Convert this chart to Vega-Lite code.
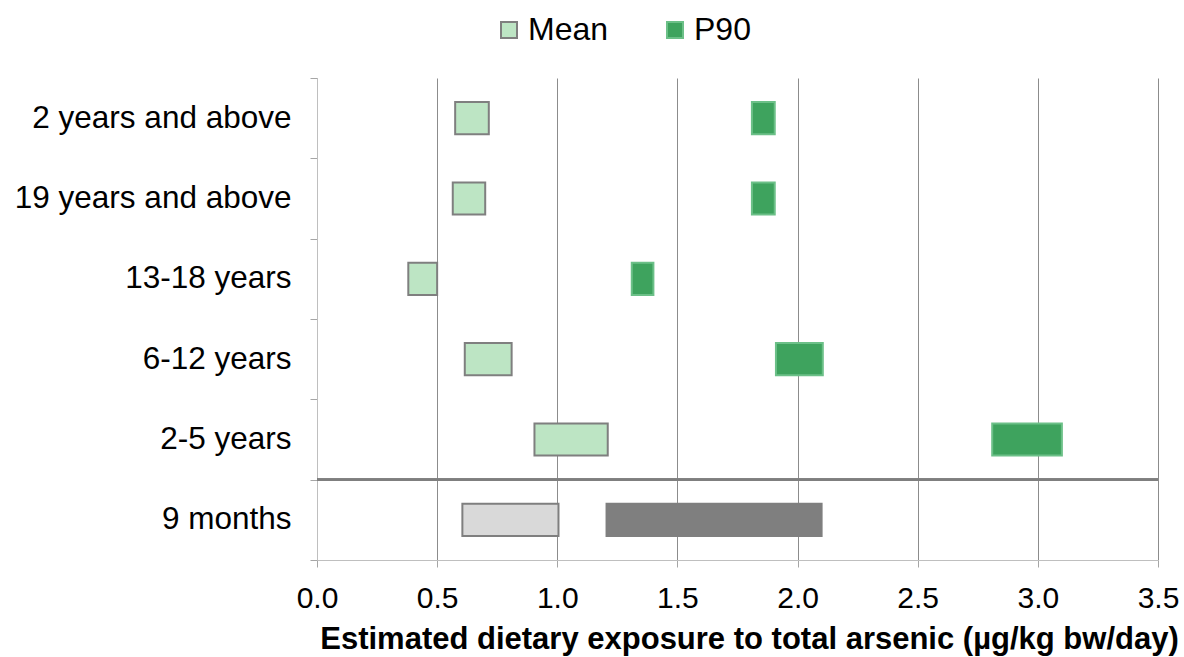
{
  "$schema": "https://vega.github.io/schema/vega-lite/v6.json",
  "width": 841,
  "height": 482,
  "autosize": {"type": "none"},
  "padding": {"left": 317, "top": 78, "right": 26, "bottom": 97},
  "background": "white",
  "config": {
    "font": "Liberation Sans",
    "view": {"stroke": null}
  },
  "data": {
    "values": [
      {"age": "2 years and above", "stat": "Mean", "lo": 0.575, "hi": 0.715},
      {"age": "2 years and above", "stat": "P90", "lo": 1.81, "hi": 1.905},
      {"age": "19 years and above", "stat": "Mean", "lo": 0.565, "hi": 0.70},
      {"age": "19 years and above", "stat": "P90", "lo": 1.81, "hi": 1.905},
      {"age": "13-18 years", "stat": "Mean", "lo": 0.38, "hi": 0.50},
      {"age": "13-18 years", "stat": "P90", "lo": 1.31, "hi": 1.40},
      {"age": "6-12 years", "stat": "Mean", "lo": 0.615, "hi": 0.81},
      {"age": "6-12 years", "stat": "P90", "lo": 1.91, "hi": 2.105},
      {"age": "2-5 years", "stat": "Mean", "lo": 0.905, "hi": 1.21},
      {"age": "2-5 years", "stat": "P90", "lo": 2.81, "hi": 3.10},
      {"age": "9 months", "stat": "Mean", "lo": 0.605, "hi": 1.005},
      {"age": "9 months", "stat": "P90", "lo": 1.205, "hi": 2.10}
    ]
  },
  "encoding": {
    "y": {
      "field": "age",
      "type": "nominal",
      "sort": ["2 years and above", "19 years and above", "13-18 years", "6-12 years", "2-5 years", "9 months"],
      "scale": {"paddingInner": 0, "paddingOuter": 0},
      "axis": {
        "title": null,
        "tickBand": "extent",
        "grid": false,
        "domainColor": "#bfbfbf",
        "tickColor": "#a6a6a6",
        "tickSize": 7,
        "labelFontSize": 31.5,
        "labelColor": "#000000",
        "labelPadding": 19,
        "labelLimit": 400
      }
    }
  },
  "layer": [
    {
      "mark": {"type": "bar", "height": {"band": 0.4}, "strokeWidth": 2},
      "encoding": {
        "x": {
          "field": "lo",
          "type": "quantitative",
          "scale": {"domain": [0, 3.5], "nice": false, "zero": false},
          "axis": {
            "values": [0, 0.5, 1, 1.5, 2, 2.5, 3, 3.5],
            "format": ".1f",
            "labelFlush": false,
            "title": "Estimated dietary exposure to total arsenic (µg/kg bw/day)",
            "titleFontSize": 31,
            "titleFontWeight": "bold",
            "titleColor": "#000000",
            "titlePadding": 11,
            "titleX": 432,
            "grid": true,
            "gridColor": "#8c8c8c",
            "gridWidth": 1,
            "domainColor": "#bfbfbf",
            "tickColor": "#a6a6a6",
            "tickSize": 7,
            "labelFontSize": 30,
            "labelColor": "#000000",
            "labelPadding": 16
          }
        },
        "x2": {"field": "hi"},
        "fill": {
          "condition": [
            {"test": "datum.age === '9 months' && datum.stat === 'Mean'", "value": "#d9d9d9"},
            {"test": "datum.age === '9 months'", "value": "#7f7f7f"}
          ],
          "field": "stat",
          "type": "nominal",
          "scale": {"domain": ["Mean", "P90"], "range": ["#bde5c4", "#3ea35e"]},
          "legend": {
            "title": null,
            "orient": "none",
            "direction": "horizontal",
            "legendX": 176,
            "legendY": -64,
            "symbolType": "square",
            "symbolSize": 256,
            "symbolStrokeWidth": 2,
            "labelFontSize": 32,
            "labelColor": "#000000",
            "labelOffset": 3,
            "columnPadding": 50
          }
        },
        "stroke": {
          "condition": [
            {"test": "datum.age === '9 months'", "value": "#7f7f7f"}
          ],
          "field": "stat",
          "type": "nominal",
          "scale": {"domain": ["Mean", "P90"], "range": ["#7f7f7f", "#6cc088"]},
          "legend": {
            "title": null,
            "orient": "none",
            "direction": "horizontal",
            "legendX": 176,
            "legendY": -64,
            "symbolType": "square",
            "symbolSize": 256,
            "symbolStrokeWidth": 2,
            "labelFontSize": 32,
            "labelColor": "#000000",
            "labelOffset": 3,
            "columnPadding": 50
          }
        }
      }
    },
    {
      "mark": {"type": "rule", "color": "#7f7f7f", "strokeWidth": 2},
      "encoding": {
        "y": {"datum": "9 months", "type": "nominal", "bandPosition": 0}
      }
    }
  ]
}
